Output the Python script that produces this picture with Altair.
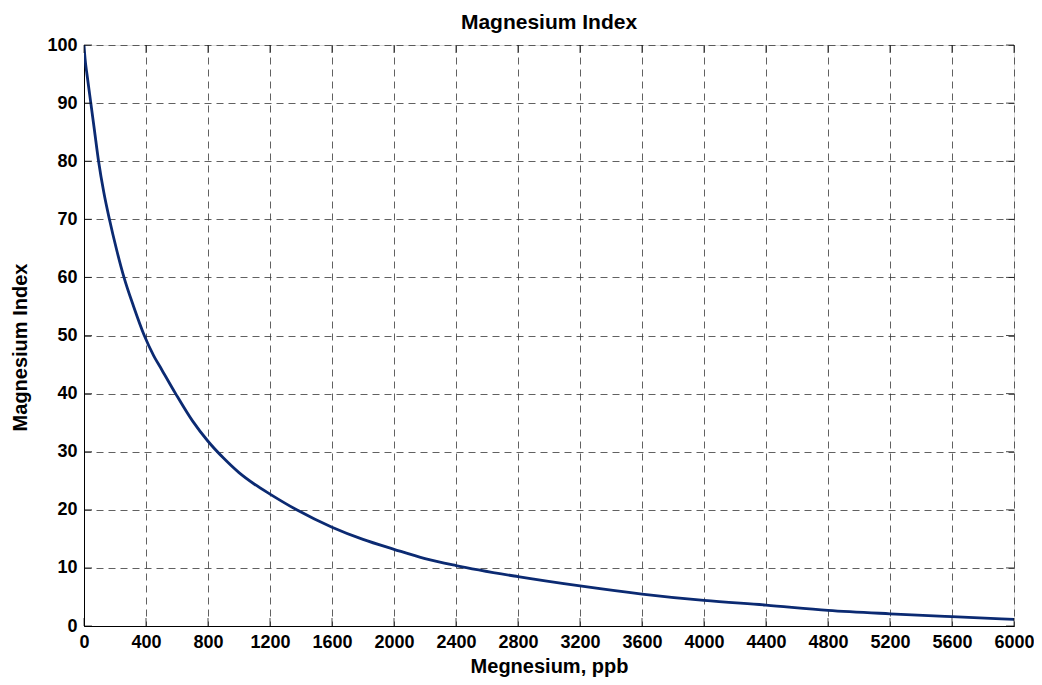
import altair as alt
import pandas as pd

# Data
magnesium = [0, 7, 20, 44, 68, 94, 128, 164, 210, 258, 320, 389, 450, 500, 591, 700, 800,
             900, 1000, 1100, 1200, 1372, 1600, 1800, 2000, 2200, 2400, 2800, 3200, 3600,
             4000, 4400, 4800, 5200, 5600, 6000]
mg_index = [100, 97.6, 94.8, 90, 85.2, 80, 74.6, 70, 64.8, 60, 55, 50, 46.5, 44.2, 40, 35.3,
            31.8, 28.9, 26.4, 24.4, 22.7, 20, 17, 14.9, 13.2, 11.6, 10.4, 8.5, 6.9, 5.5,
            4.4, 3.6, 2.7, 2.1, 1.6, 1.15]
x_ticks = list(range(0, 6001, 400))
y_ticks = list(range(0, 101, 10))

W, H = 930, 581
FONT = "Liberation Sans"

df = pd.DataFrame({"mg": magnesium, "idx": mg_index})

xs = alt.Scale(domain=[0, 6000], nice=False, zero=False)
ys = alt.Scale(domain=[0, 100], nice=False, zero=False)

common = dict(grid=True, gridDash=[7, 5], gridColor="#3a3a3a", gridOpacity=0.8, gridWidth=1,
              tickSize=0, labelPadding=7, format="d",
              labelFont=FONT, labelFontSize=18, labelFontWeight="bold", labelColor="black",
              titleFont=FONT, titleFontSize=20, titleFontWeight="bold", titleColor="black",
              domain=True, domainColor="black", domainWidth=1, labelFlush=False,
              labelOverlap=False)

x_axis = alt.Axis(values=x_ticks, title="Megnesium, ppb", titlePadding=5, **common)
y_axis = alt.Axis(values=y_ticks, title="Magnesium Index", titlePadding=16, titleY=302,
                  **common)

line = alt.Chart(df).mark_line(color="#0b2a72", strokeWidth=2.8, clip=True,
                               interpolate="monotone").encode(
    x=alt.X("mg:Q", scale=xs, axis=x_axis),
    y=alt.Y("idx:Q", scale=ys, axis=y_axis),
)

# inward tick marks on all four sides
xt_bottom = pd.DataFrame({"mg": x_ticks, "idx": [0] * len(x_ticks)})
xt_top = pd.DataFrame({"mg": x_ticks, "idx": [100] * len(x_ticks)})
yt_left = pd.DataFrame({"mg": [0] * len(y_ticks), "idx": y_ticks})
yt_right = pd.DataFrame({"mg": [6000] * len(y_ticks), "idx": y_ticks})

def ticks(data, orient, **off):
    return alt.Chart(data).mark_tick(color="black", thickness=1, size=8, orient=orient,
                                     **off).encode(
        x=alt.X("mg:Q", scale=xs), y=alt.Y("idx:Q", scale=ys))

chart = alt.layer(
    line,
    ticks(xt_bottom, "vertical", yOffset=-4),
    ticks(xt_top, "vertical", yOffset=4),
    ticks(yt_left, "horizontal", xOffset=4),
    ticks(yt_right, "horizontal", xOffset=-4),
).properties(
    width=W, height=H,
    title=alt.TitleParams("Magnesium Index", font=FONT, fontSize=21, fontWeight="bold",
                          color="black", anchor="middle", offset=3),
    autosize=alt.AutoSizeParams(type="none"),
    padding={"left": 76, "top": 37, "right": 20, "bottom": 51},
).configure_view(stroke="black", strokeWidth=1).configure(background="white")

chart.save("out.html", embed_options={"renderer": "svg", "actions": False})
